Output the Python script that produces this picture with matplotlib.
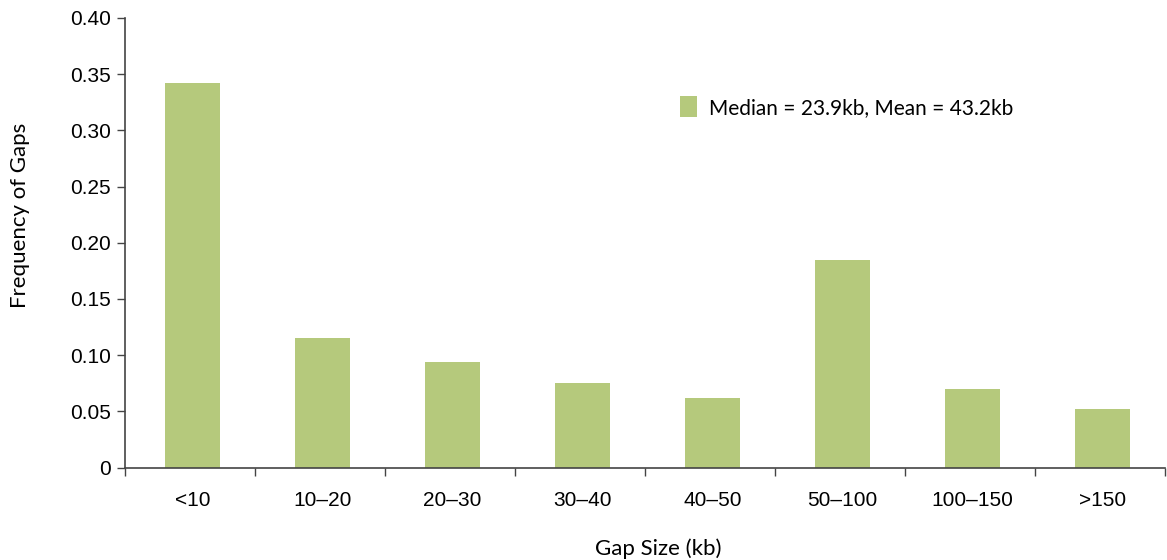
import numpy as np
import matplotlib.pyplot as plt
from matplotlib.ticker import FixedLocator, FuncFormatter

# gap size bins and their frequency
categories = ['<10', '10\u201320', '20\u201330', '30\u201340', '40\u201350', '50\u2013100', '100\u2013150', '>150']
freq = [0.342, 0.115, 0.094, 0.075, 0.062, 0.185, 0.070, 0.052]
legend_label = 'Median = 23.9kb, Mean = 43.2kb'

bar_color = '#b5c97c'
axis_color = '#444444'

plt.rcParams['font.family'] = ['Liberation Sans', 'DejaVu Sans']

fig = plt.figure(figsize=(11.67, 5.6), dpi=100)
ax = fig.add_axes([0.1071, 0.165, 0.891, 0.803])

x = np.arange(len(categories))
ax.bar(x + 0.02, freq, width=0.42, color=bar_color, label=legend_label, zorder=2)

ax.set_xlim(-0.5, len(categories) - 0.5)
ax.set_ylim(0, 0.40)
ax.set_yticks(np.arange(0, 0.401, 0.05))
ax.yaxis.set_major_formatter(FuncFormatter(lambda v, p: '0' if v == 0 else f'{v:.2f}'))

# labels in the middle, ticks at the boundaries
ax.set_xticks(x + 0.02)
ax.set_xticklabels(categories)
ax.xaxis.set_minor_locator(FixedLocator(np.arange(-0.5, len(categories), 1.0)))
ax.tick_params(axis='x', which='major', length=0, pad=17, labelsize=15)
ax.tick_params(axis='x', which='minor', length=6, color=axis_color, width=1)
ax.tick_params(axis='y', which='major', length=6, color=axis_color, width=1, labelsize=15, pad=4)

for side in ['top', 'right']:
    ax.spines[side].set_visible(False)
for side in ['left', 'bottom']:
    ax.spines[side].set_color(axis_color)
    ax.spines[side].set_linewidth(1.2)

lab_font = ['Lato', 'DejaVu Sans']
ax.set_xlabel('Gap Size (kb)', fontsize=16, family=lab_font, labelpad=18)
ax.xaxis.set_label_coords(0.5125, -0.157)
ax.set_ylabel('Frequency of Gaps', fontsize=16, family=lab_font, labelpad=14)
ax.yaxis.set_label_coords(-0.091, 0.56)

leg = ax.legend(loc='center left', bbox_to_anchor=(0.534, 0.802), frameon=False,
                prop={'family': lab_font, 'size': 15}, handlelength=0.8, handleheight=1.15,
                handletextpad=0.6, borderpad=0, borderaxespad=0)

fig.savefig('out.png', dpi=100)
